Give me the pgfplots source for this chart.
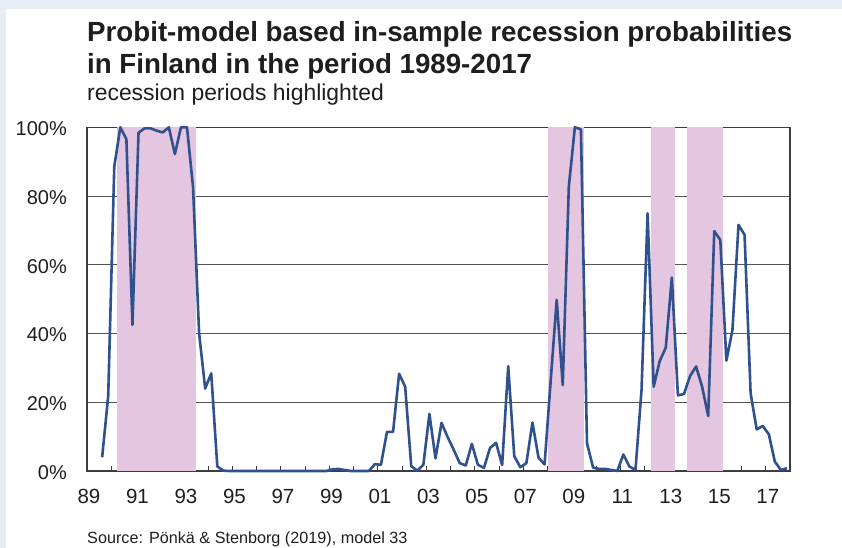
\documentclass[border=0pt]{standalone}
\usepackage{fontspec}
\setmainfont{Liberation Sans}
\usepackage{pgfplots}
\pgfplotsset{compat=1.18}
\definecolor{bgc}{RGB}{232,237,245}
\definecolor{linec}{RGB}{47,82,143}
\definecolor{recc}{RGB}{228,198,224}
\definecolor{gridc}{RGB}{85,85,85}
\definecolor{axc}{RGB}{60,60,60}
\definecolor{txt}{RGB}{30,30,30}
\pgfplotstableread{
t p
1989.625 4.0
1989.875 21.8
1990.125 88.6
1990.375 100
1990.625 96.5
1990.875 42.5
1991.125 98.4
1991.375 99.7
1991.625 99.7
1991.875 99.0
1992.125 98.5
1992.375 100
1992.625 92.2
1992.875 100
1993.125 100
1993.375 82.5
1993.625 40
1993.875 24
1994.125 28.4
1994.375 1.3
1994.625 0.1
1994.875 0
1995.125 0
1995.375 0
1995.625 0
1995.875 0
1996.125 0
1996.375 0
1996.625 0
1996.875 0
1997.125 0
1997.375 0
1997.625 0
1997.875 0
1998.125 0
1998.375 0
1998.625 0
1998.875 0
1999.125 0.5
1999.375 0.6
1999.625 0.3
1999.875 0
2000.125 0
2000.375 0
2000.625 0
2000.875 2.0
2001.125 1.8
2001.375 11.4
2001.625 11.4
2001.875 28.3
2002.125 24.5
2002.375 1.4
2002.625 0.1
2002.875 1.8
2003.125 16.6
2003.375 3.7
2003.625 14.0
2003.875 9.9
2004.125 6.2
2004.375 2.3
2004.625 1.6
2004.875 7.9
2005.125 1.8
2005.375 0.9
2005.625 6.7
2005.875 8.2
2006.125 1.7
2006.375 30.5
2006.625 4.3
2006.875 1.1
2007.125 2.3
2007.375 14.1
2007.625 3.9
2007.875 1.9
2008.125 26
2008.375 49.8
2008.625 25.0
2008.875 82.7
2009.125 100
2009.375 99.4
2009.625 8.1
2009.875 1.0
2010.125 0.6
2010.375 0.6
2010.625 0.3
2010.875 0
2011.125 4.8
2011.375 1.3
2011.625 0.3
2011.875 23.6
2012.125 75
2012.375 24.5
2012.625 32
2012.875 35.9
2013.125 56.3
2013.375 22
2013.625 22.4
2013.875 27.6
2014.125 30.4
2014.375 24.5
2014.625 16
2014.875 69.8
2015.125 67.2
2015.375 32.1
2015.625 41
2015.875 71.6
2016.125 68.7
2016.375 22.6
2016.625 12.1
2016.875 13.1
2017.125 10.7
2017.375 2.7
2017.625 0.3
2017.875 0.8
}\probdata
\begin{document}
\begin{tikzpicture}[x=1bp,y=1bp]
\useasboundingbox (0,0) rectangle (842,548);
\fill[bgc] (0,0) rectangle (842,548);
\fill[white] (6,0) rectangle (842,539);
\node[anchor=base west, inner sep=0pt, text=txt, font=\fontsize{27.7bp}{33bp}\selectfont\bfseries] at (87,506.5) {Probit-model based in-sample recession probabilities};
\node[anchor=base west, inner sep=0pt, text=txt, font=\fontsize{27.7bp}{33bp}\selectfont\bfseries] at (87,474) {in Finland in the period 1989-2017};
\node[anchor=base west, inner sep=0pt, text=txt, font=\fontsize{22.9bp}{27bp}\selectfont] at (87,447) {recession periods highlighted};
\node[anchor=base west, inner sep=0pt, text=txt, font=\fontsize{16.2bp}{19bp}\selectfont] at (87,4.5) {Source: Pönkä \& Stenborg (2019), model 33};
\begin{axis}[
  at={(87bp,77bp)}, anchor=south west,
  scale only axis, width=703bp, height=343.7bp,
  xmin=1989, xmax=2018, ymin=0, ymax=100,
  xtick={1989,1991,...,2017},
  xticklabels={89,91,93,95,97,99,01,03,05,07,09,11,13,15,17},
  minor xtick={1990,1992,...,2016},
  xtick pos=bottom,
  tick align=inside,
  major tick length=5bp, minor tick length=5bp,
  ytick={0,20,...,100},
  yticklabels={0\%,20\%,40\%,60\%,80\%,100\%},
  ytick style={draw=none},
  xtick style={axc, line width=1bp},
  minor tick style={axc, line width=1bp},
  ymajorgrids,
  grid style={gridc, line width=0.9bp},
  axis line style={axc, line width=1.2bp},
  xticklabel style={font=\fontsize{20.5bp}{24bp}\selectfont, text=txt, inner sep=0pt, anchor=north, yshift=-18bp, xshift=2bp},
  yticklabel style={font=\fontsize{20bp}{24bp}\selectfont, text=txt, inner sep=0pt, anchor=east, xshift=-20bp, yshift=-1.5bp},
  clip=false,
]
\addplot[fill=recc, draw=none] coordinates {(1990.25,0) (1990.25,100) (1993.5,100) (1993.5,0)} -- cycle;
\addplot[fill=recc, draw=none] coordinates {(2008.0,0) (2008.0,100) (2009.5,100) (2009.5,0)} -- cycle;
\addplot[fill=recc, draw=none] coordinates {(2012.25,0) (2012.25,100) (2013.25,100) (2013.25,0)} -- cycle;
\addplot[fill=recc, draw=none] coordinates {(2013.75,0) (2013.75,100) (2015.25,100) (2015.25,0)} -- cycle;
\addplot[linec, line width=2.6bp, line join=round, mark=none] table[x=t, y=p] {\probdata};
\end{axis}
\end{tikzpicture}
\end{document}
